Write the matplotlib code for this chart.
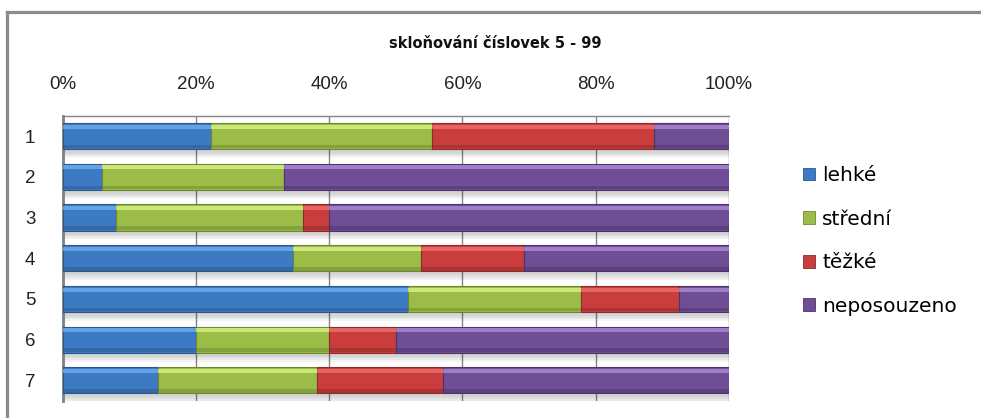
import matplotlib
matplotlib.use('Agg')
import matplotlib.pyplot as plt
from matplotlib.lines import Line2D
from matplotlib.patches import Patch
from matplotlib import font_manager
import numpy as np

# --- data (share of answers, %) ---
rows = ['1', '2', '3', '4', '5', '6', '7']
lehke = [22.2, 5.9, 8.0, 34.6, 51.9, 20.0, 14.3]
stredni = [33.3, 27.3, 28.0, 19.2, 25.9, 20.0, 23.8]
tezke = [33.3, 0.0, 4.0, 15.4, 14.8, 10.0, 19.0]
neposouzeno = [11.2, 66.8, 60.0, 30.8, 7.4, 50.0, 42.9]

series = [lehke, stredni, tezke, neposouzeno]
labels = ['lehké', 'střední', 'těžké', 'neposouzeno']
ticks = [0, 20, 40, 60, 80, 100]
tick_labels = ['0%', '20%', '40%', '60%', '80%', '100%']
title = 'skloňování číslovek 5 - 99'

# main / highlight / shade colour per series
colors = [
    ('#3D7AC4', '#74B4F2', '#2C5889'),
    ('#9CBC48', '#E2F88E', '#6C8734'),
    ('#C93E3C', '#F27676', '#8C2B2A'),
    ('#6F4E96', '#B392E2', '#4B3469'),
]

installed = {f.name for f in font_manager.fontManager.ttflist}
narrow = 'Liberation Sans Narrow' if 'Liberation Sans Narrow' in installed else 'Liberation Sans'

fig = plt.figure(figsize=(9.81, 4.18), dpi=100)
ax = fig.add_axes([63 / 981, 1 - 400.7 / 418, (728.7 - 63) / 981, (400.7 - 115.7) / 418])

y = np.arange(len(rows))
h = 0.64
totals = np.sum(series, axis=0)

# soft shadow under each bar
for k in range(4):
    ax.barh(y + 0.10 + 0.04 * k, totals, height=h, color='#000000', alpha=0.045,
            linewidth=0, zorder=1)

left = np.zeros(len(rows))
for vals, (c, light, dark), lab in zip(series, colors, labels):
    vals = np.array(vals)
    ax.barh(y, vals, left=left, height=h, color=c, edgecolor=dark, linewidth=0.8,
            zorder=3, label=lab)
    # bevel: bright band on top, dark band at the bottom
    ax.barh(y - h / 2 + 0.09, vals, left=left, height=0.1, color=light,
            linewidth=0, alpha=0.7, zorder=4)
    ax.barh(y + h / 2 - 0.06, vals, left=left, height=0.09, color=dark,
            linewidth=0, alpha=0.5, zorder=4)
    left += vals

ax.set_xlim(0, 100)
ax.set_ylim(len(rows) - 0.5, -0.5)
ax.set_xticks(ticks)
ax.set_xticklabels(tick_labels)
ax.set_yticks(y)
ax.set_yticklabels(rows)
ax.xaxis.tick_top()
ax.tick_params(axis='x', length=0, pad=16, labelsize=13.5, labelcolor='#222222')
ax.tick_params(axis='y', length=0, pad=20, labelsize=13.5, labelcolor='#222222')
for t in ax.get_xticklabels() + ax.get_yticklabels():
    t.set_family([narrow, 'DejaVu Sans'])

ax.grid(axis='x', color='#858585', linewidth=1.0, zorder=0)
ax.set_axisbelow(True)
ax.spines['bottom'].set_visible(False)
ax.spines['right'].set_visible(False)
ax.spines['top'].set_color('#858585')
ax.spines['top'].set_linewidth(1.0)
ax.spines['left'].set_color('#808080')
ax.spines['left'].set_linewidth(2.0)

fig.text(0.505, 1 - 43 / 418, title, ha='center', va='center', fontsize=10.5,
         fontweight='bold', color='#111111')

handles = [Patch(facecolor=c, edgecolor=d, linewidth=0.6) for c, _, d in colors]
fig.legend(handles, labels, loc='center left', bbox_to_anchor=(803 / 981, 1 - 241 / 418),
           frameon=False, fontsize=14.5, handlelength=0.6, handleheight=0.6,
           handletextpad=0.35, labelspacing=1.22, borderpad=0, borderaxespad=0)

# chart border
fig.add_artist(Line2D([7 / 981, 1.0], [1 - 11.5 / 418] * 2, color='#8A8A8A',
                      linewidth=2.3, transform=fig.transFigure))
fig.add_artist(Line2D([7 / 981] * 2, [0.0, 1 - 11.5 / 418], color='#8A8A8A',
                      linewidth=2.3, transform=fig.transFigure))

fig.savefig('out.png', dpi=100)
